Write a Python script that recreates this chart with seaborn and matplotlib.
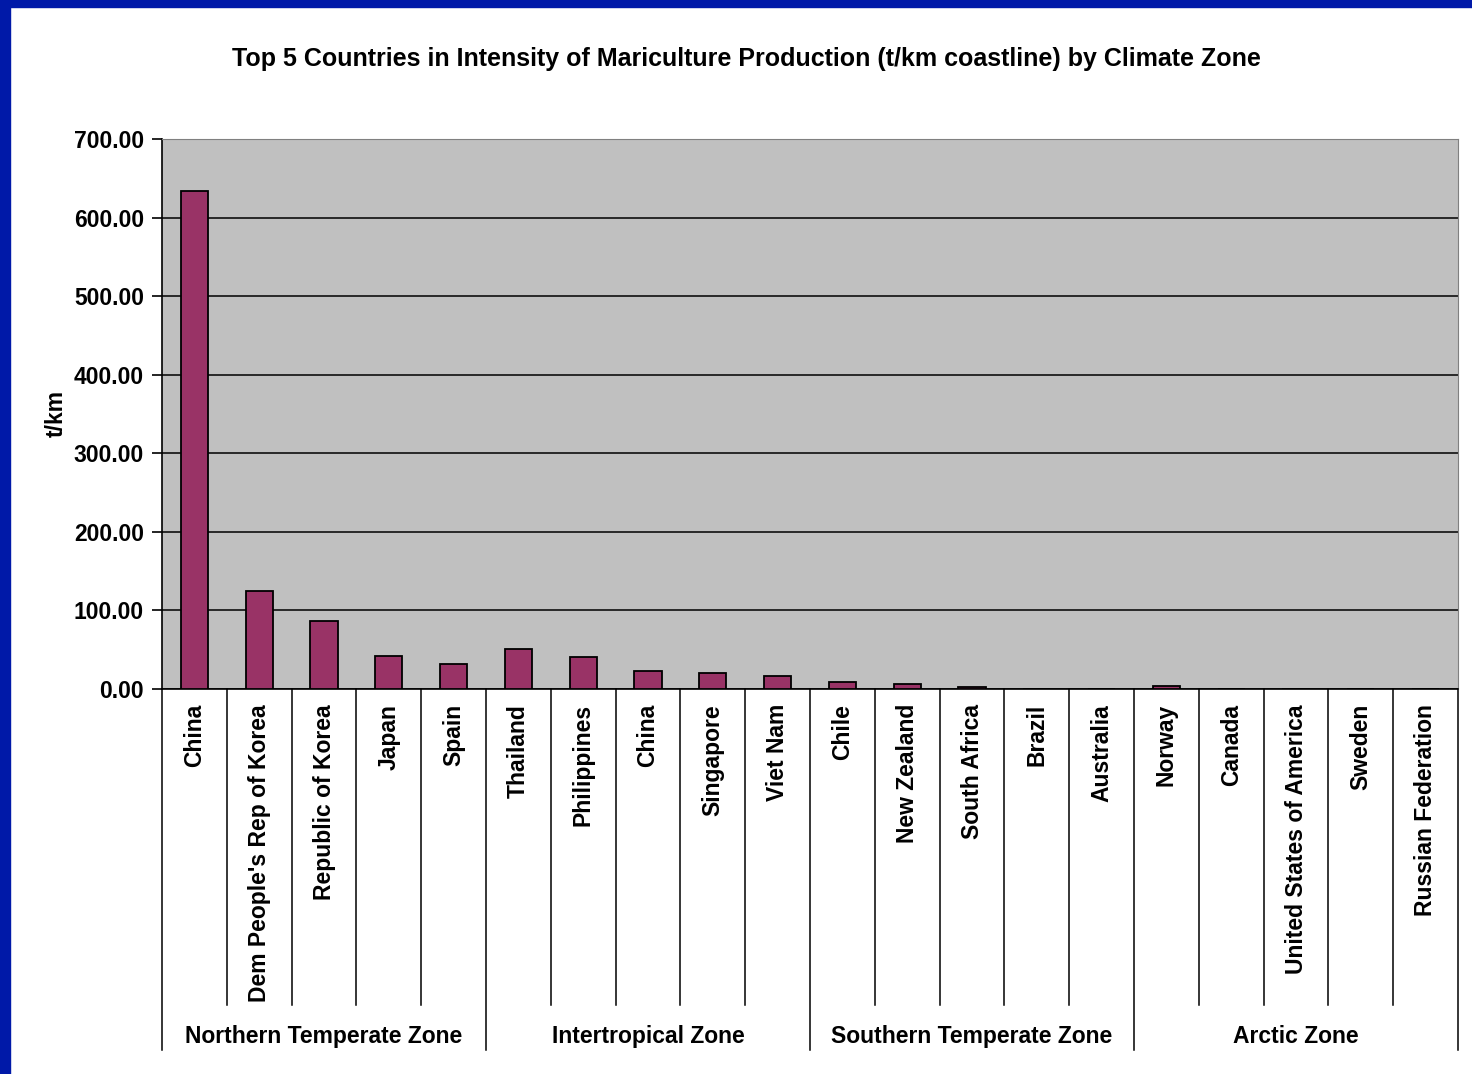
# bar chart of mariculture intensity, grouped by climate zone

import matplotlib.pyplot as plt
import pandas as pd
import seaborn as sb
from matplotlib.patches import Rectangle

zones = ['Northern Temperate Zone', 'Intertropical Zone', 'Southern Temperate Zone', 'Arctic Zone']
countries = ['China', "Dem People's Rep of Korea", 'Republic of Korea', 'Japan', 'Spain',
             'Thailand', 'Philippines', 'China', 'Singapore', 'Viet Nam',
             'Chile', 'New Zealand', 'South Africa', 'Brazil', 'Australia',
             'Norway', 'Canada', 'United States of America', 'Sweden', 'Russian Federation']
values = [634.0, 125.0, 87.0, 42.0, 32.0,
          50.5, 40.7, 22.5, 20.5, 16.5,
          8.5, 6.4, 2.4, 0.3, 0.2,
          4.2, 0.2, 0.1, 0.1, 0.1]
zone_of = [z for z in zones for _ in range(5)]

df = pd.DataFrame({'key': [f'{i}_{c}' for i, c in enumerate(countries)],
                   'country': countries, 'zone': zone_of, 'val': values})

plt.rcParams['font.family'] = ['Liberation Sans', 'DejaVu Sans']
plt.rcParams['font.weight'] = 'bold'
fs = 16.5

fig = plt.figure(figsize = (14.72, 10.74), dpi = 100)
ax = fig.add_axes([0.1101, 0.3585, 0.8804, 0.5121])
ax.set_facecolor('#C0C0C0')

sb.barplot(data = df, x = 'key', y = 'val', order = df['key'], ax = ax, color = '#993366',
           saturation = 1, width = 0.42, edgecolor = 'black', linewidth = 1.3, zorder = 3)

ax.set_ylim(0, 700)
ax.set_yticks(range(0, 701, 100))
ax.set_yticklabels([f'{v:.2f}' for v in range(0, 701, 100)], fontsize = fs, fontweight = 'bold')
ax.yaxis.grid(True, color = 'black', linewidth = 1.1, zorder = 0)
ax.set_axisbelow(True)
ax.tick_params(axis = 'y', length = 7, width = 1.2, pad = 6)

ax.set_xticks(range(len(countries)))
ax.set_xticklabels(countries, rotation = 90, fontsize = fs, fontweight = 'bold', va = 'top')
ax.tick_params(axis = 'x', length = 0, pad = 11)
ax.set_xlim(-0.5, len(countries) - 0.5)
ax.set_xlabel('')
ax.set_ylabel('t/km', fontsize = fs, fontweight = 'bold', labelpad = 4)

for s in ['top', 'right']:
    ax.spines[s].set_color('#808080')
for s in ['left', 'bottom']:
    ax.spines[s].set_color('black')
    ax.spines[s].set_linewidth(1.2)

# multi-level category axis: separators and zone labels
tr = ax.get_xaxis_transform()
for i in range(len(countries) + 1):
    bottom = -0.656 if i % 5 == 0 else -0.5745
    ax.plot([i - 0.5, i - 0.5], [0, bottom], transform = tr, color = 'black', linewidth = 1.1, clip_on = False)
for g, z in enumerate(zones):
    ax.text(g * 5 + 2, -0.631, z, transform = tr, ha = 'center', va = 'center', fontsize = fs, fontweight = 'bold')

fig.suptitle('Top 5 Countries in Intensity of Mariculture Production (t/km coastline) by Climate Zone',
             x = 0.507, y = 0.956, fontsize = 18, fontweight = 'bold')

# blue frame on top and left edges
fig.patches.append(Rectangle((0, 1 - 7 / 1074), 1, 7 / 1074, transform = fig.transFigure, color = '#0019A8', zorder = 10))
fig.patches.append(Rectangle((0, 0), 10 / 1472, 1, transform = fig.transFigure, color = '#0019A8', zorder = 10))

plt.savefig('out.png', dpi = 100)
